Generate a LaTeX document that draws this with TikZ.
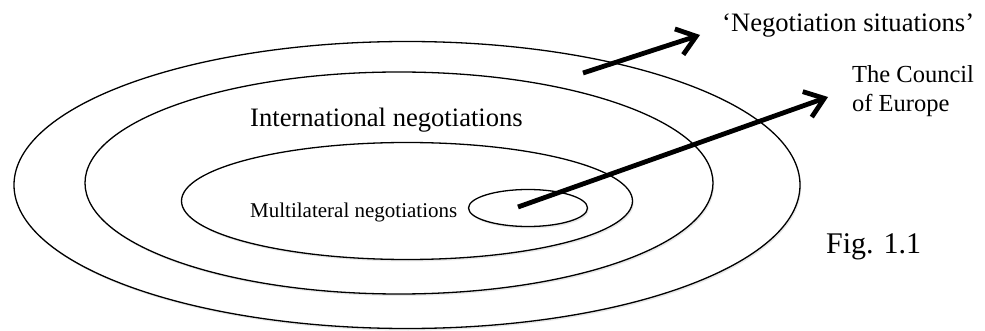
\documentclass[tikz,border=0pt]{standalone}
\usepackage{fontspec}
\setmainfont{Liberation Serif}
\usetikzlibrary{arrows.meta,shapes.geometric,shadows}
\tikzset{
  ring/.style={ellipse, draw=black, line width=1.3pt, fill=white, inner sep=0pt,
    drop shadow={shadow xshift=1.2pt, shadow yshift=-2pt, opacity=0.18}},
  words/.style={anchor=base west, inner sep=0pt, align=left},
  pointer/.style={-{Straight Barb[length=18pt,width=27pt]}, line width=4.8pt, draw=black},
}

\begin{document}
\begin{tikzpicture}[x=1pt, y=-1pt]
\useasboundingbox (0,0) rectangle (985,331);
% nested situations
\node[ring, minimum width=786pt, minimum height=287pt] (outer) at (407,185) {};
\node[ring, minimum width=628pt, minimum height=222pt] (intl) at (399,183) {};
\node[ring, minimum width=451pt, minimum height=117pt] (multi) at (407,201) {};
\node[ring, minimum width=119pt, minimum height=37pt] (coe) at (528,208) {};
% texts
\node[words, font=\fontsize{26.6}{30}\selectfont] (sit) at (722,32) {‘Negotiation situations’};
\node[words, font=\fontsize{24.5}{29}\selectfont] (council) at (852,112) {The Council\\of Europe};
\node[words, font=\fontsize{26.6}{30}\selectfont] (intltext) at (250,127) {International negotiations};
\node[words, font=\fontsize{21}{25}\selectfont] (multitext) at (250,218) {Multilateral negotiations};
\node[words, font=\fontsize{30}{34}\selectfont] (fig) at (826,253) {Fig. 1.1};
% pointers
\coordinate (sitfrom) at (583,73);
\coordinate (sitto) at (700,35);
\coordinate (coefrom) at (518,207);
\coordinate (coeto) at (828,97);
\draw[pointer] (sitfrom) -- (sitto);
\draw[pointer] (coefrom) -- (coeto);
\end{tikzpicture}
\end{document}
